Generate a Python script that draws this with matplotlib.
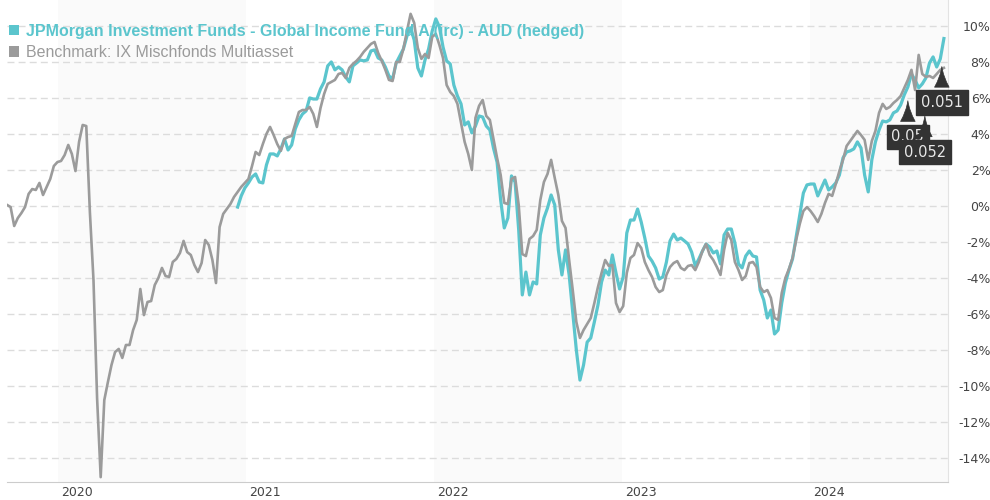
import pandas as pd
import matplotlib
matplotlib.use("Agg")
import matplotlib.pyplot as plt
from matplotlib.patches import Patch
from matplotlib.transforms import ScaledTranslation

# Weekly performance in %
start_date = "2019-09-24"
benchmark = [
    0.06, -0.06, -1.11, -0.67, -0.39, -0.06, 0.67, 0.94, 0.89, 1.28,
    0.61, 1.06, 1.5, 2.22, 2.44, 2.5, 2.83, 3.39, 2.89, 1.94,
    3.56, 4.5, 4.44, -0.33, -4.11, -10.67, -15.06, -10.78, -9.78, -8.83,
    -8.11, -7.94, -8.44, -7.72, -7.72, -6.89, -6.33, -4.61, -6.06, -5.33,
    -5.28, -4.39, -4.0, -3.44, -3.89, -3.94, -3.11, -2.94, -2.61, -1.94,
    -2.56, -2.72, -3.28, -3.67, -3.17, -1.89, -2.17, -3.0, -4.28, -1.17,
    -0.44, -0.17, 0.11, 0.5, 0.78, 1.06, 1.28, 1.5, 2.22, 3.0,
    2.83, 3.44, 4.0, 4.39, 3.94, 3.44, 3.06, 3.72, 3.83, 3.89,
    4.56, 5.22, 5.33, 5.33, 5.5, 5.11, 4.39, 5.44, 6.22, 6.78,
    6.89, 7.0, 7.33, 7.39, 7.11, 7.67, 7.89, 8.06, 8.28, 8.56,
    8.78, 9.0, 9.11, 8.5, 8.06, 7.56, 7.0, 6.94, 8.0, 8.0,
    8.72, 9.72, 10.67, 10.17, 8.78, 8.17, 8.44, 8.22, 9.39, 9.56,
    8.94, 8.22, 6.72, 6.33, 6.11, 5.67, 4.61, 3.56, 2.89, 2.0,
    4.89, 5.56, 5.89, 5.0, 4.78, 3.72, 2.67, 1.72, 0.17, 0.11,
    1.5, 1.61, 0.06, -2.67, -2.78, -1.83, -1.67, -1.33, 0.33, 1.33,
    1.78, 2.56, 1.56, 0.61, -0.83, -1.22, -3.0, -4.67, -6.44, -7.33,
    -6.89, -6.56, -6.22, -5.39, -4.5, -3.72, -3.0, -3.33, -3.28, -5.39,
    -5.89, -5.56, -3.72, -2.89, -2.72, -2.06, -2.33, -3.11, -3.56, -3.94,
    -4.5, -4.78, -4.67, -3.83, -3.39, -3.17, -3.06, -3.44, -3.56, -3.33,
    -3.28, -3.56, -3.11, -2.5, -2.11, -2.72, -3.0, -3.39, -3.83, -2.44,
    -1.5, -1.89, -3.11, -3.56, -4.11, -3.89, -3.17, -3.11, -3.39, -4.5,
    -4.78, -4.67, -5.11, -6.22, -6.33, -4.83, -4.0, -3.5, -2.89, -1.89,
    -1.0, -0.28, -0.06, -0.28, -0.56, -0.89, -0.44, 0.17, 0.67, 0.56,
    1.22, 1.94, 2.56, 3.33, 3.61, 3.89, 4.17, 3.94, 3.67, 2.56,
    3.61, 4.17, 5.17, 5.67, 5.39, 5.5, 5.72, 5.89, 6.11, 6.56,
    7.0, 7.56, 6.44, 8.39, 7.33, 7.17, 7.22, 7.11, 7.33, 7.56, 7.67,
]
fund = [
    -0.06, 0.56, 1.0, 1.28, 1.61, 1.78,
    1.33, 1.28, 2.28, 2.89, 2.89, 2.78, 3.17, 3.72, 3.11, 3.39,
    4.28, 4.78, 5.11, 5.28, 6.0, 5.94, 5.94, 6.5, 6.89, 7.78,
    8.0, 7.56, 7.72, 7.56, 7.17, 6.89, 7.78, 7.94, 8.11, 8.06,
    8.11, 8.61, 8.67, 8.22, 8.11, 7.72, 7.22, 7.06, 7.94, 8.33,
    8.72, 9.44, 9.89, 9.22, 7.67, 7.22, 8.11, 8.72, 9.72, 10.39,
    9.94, 8.83, 8.06, 7.89, 6.72, 6.11, 5.67, 4.5, 4.67, 4.06,
    4.44, 5.0, 4.94, 4.44, 4.22, 3.22, 2.44, 0.33, -1.22, -0.67,
    1.67, 1.33, -1.33, -4.94, -3.67, -4.94, -4.22, -4.33, -1.61, -0.67,
    -0.11, 0.61, 0.06, -2.44, -3.83, -2.44, -3.83, -5.94, -8.0, -9.67,
    -8.83, -7.56, -7.33, -6.44, -5.5, -4.22, -3.56, -3.83, -2.72, -3.72,
    -4.61, -3.94, -1.5, -0.78, -0.78, -0.17, -0.89, -1.78, -2.78, -3.06,
    -3.44, -4.06, -3.94, -3.11, -1.94, -1.56, -1.89, -1.78, -1.94, -2.11,
    -2.56, -3.33, -2.94, -2.5, -2.11, -2.28, -2.61, -2.5, -3.22, -1.61,
    -1.28, -1.28, -2.06, -3.22, -3.44, -2.78, -2.5, -2.78, -2.83, -4.67,
    -5.22, -6.22, -5.78, -7.11, -6.89, -5.39, -4.28, -3.56, -2.94, -1.72,
    -0.5, 0.72, 1.17, 1.22, 1.22, 0.56, 1.0, 1.44, 0.89, 1.06,
    1.28, 1.72, 2.67, 3.0, 3.06, 3.17, 3.56, 3.22, 1.72, 0.78,
    2.56, 3.56, 4.22, 4.72, 4.67, 4.78, 5.17, 5.28, 5.61, 6.17,
    6.61, 7.33, 7.0, 6.56, 6.78, 7.11, 7.94, 8.28, 7.72, 8.17, 9.3,
]

# Distribution flags on the fund line
flag_dates = ["2024-07-09", "2024-08-11", "2024-09-13"]
flag_values = [6.0, 5.15, 7.9]
flag_labels = ["0.05", "0.052", "0.051"]

years = [2020, 2021, 2022, 2023, 2024]
shaded_years = [2020, 2022, 2024]
y_ticks = list(range(-14, 11, 2))

fund_name = "JPMorgan Investment Funds - Global Income Fund A (irc) - AUD (hedged)"
bench_name = "Benchmark: IX Mischfonds Multiasset"

teal = "#5BC5CD"
grey = "#9B9B9B"

bench_dates = pd.date_range(start_date, periods=len(benchmark), freq="7D")
fund_dates = bench_dates[len(benchmark) - len(fund):]

fig = plt.figure(figsize=(9.9, 5), dpi=100)
ax = fig.add_axes([7 / 990, 18 / 500, 940.5 / 990, 482 / 500])

# alternating year bands
for y in shaded_years:
    ax.axvspan(pd.Timestamp(f"{y}-01-01"), pd.Timestamp(f"{y + 1}-01-01"),
               color="#FAFAFA", lw=0, zorder=0)

ax.plot(fund_dates, fund, color=teal, lw=2.3, zorder=3, solid_joinstyle="round")
ax.plot(bench_dates, benchmark, color=grey, lw=1.9, zorder=4, solid_joinstyle="round")

# flags
for d, v, lab in zip(flag_dates, flag_values, flag_labels):
    ax.annotate(lab, xy=(pd.Timestamp(d), v), xytext=(0, -28), textcoords="offset points",
                ha="center", va="center", color="#E8E8E8", fontsize=10.5, zorder=6,
                bbox=dict(boxstyle="square,pad=0.32", fc="#333333", ec="#333333"),
                arrowprops=dict(arrowstyle="wedge,tail_width=1.0,shrink_factor=0.35",
                                fc="#333333", ec="#333333", lw=0.5))

ax.set_xlim(pd.Timestamp("2019-09-24"), pd.Timestamp("2024-09-24"))
ax.set_ylim(-15.33, 11.44)

ax.set_yticks(y_ticks)
ax.set_yticklabels([f"{t}%" for t in y_ticks])
ax.yaxis.tick_right()
ax.tick_params(axis="y", length=0, pad=31, labelsize=9, labelcolor="#444444")
for lab in ax.get_yticklabels():
    lab.set_horizontalalignment("right")

ax.set_xticks([pd.Timestamp(f"{y}-01-01") for y in years])
ax.set_xticklabels([str(y) for y in years])
ax.tick_params(axis="x", length=0, pad=3, labelsize=9, labelcolor="#444444")
shift = ScaledTranslation(3 / 100, 0, fig.dpi_scale_trans)
for lab in ax.get_xticklabels():
    lab.set_horizontalalignment("left")
    lab.set_transform(lab.get_transform() + shift)

ax.grid(axis="y", color="#DCDCDC", linestyle=(0, (5, 3)), lw=1)
ax.set_axisbelow(True)

for s in ["left", "top"]:
    ax.spines[s].set_visible(False)
ax.spines["bottom"].set_color("#CCCCCC")
ax.spines["right"].set_color("#E3E3E3")

handles = [Patch(facecolor=teal, edgecolor="none"), Patch(facecolor=grey, edgecolor="none")]
leg = ax.legend(handles, [fund_name, bench_name], loc="upper left",
                bbox_to_anchor=(9 / 990, 1 - 24 / 500), bbox_transform=fig.transFigure,
                frameon=False, borderpad=0, borderaxespad=0,
                handlelength=0.62, handleheight=0.6, handletextpad=0.42,
                labelspacing=0.38, prop={"family": "Liberation Sans", "size": 11.5})
leg.set_zorder(7)
txt = leg.get_texts()
txt[0].set_color(teal)
txt[0].set_fontweight("bold")
txt[1].set_color(grey)

fig.savefig("out.png", dpi=100)
